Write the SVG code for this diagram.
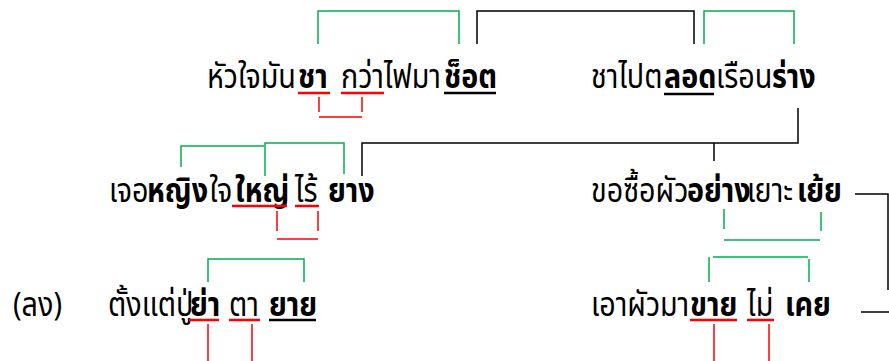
<svg xmlns="http://www.w3.org/2000/svg" width="889" height="361" viewBox="0 0 889 361">
<style>
text{font-family:"Noto Sans Thai","Leelawadee UI","Tahoma","DejaVu Sans","Noto Sans",sans-serif;font-size:33px;fill:#000}
.b{font-weight:bold}
.g{stroke:#00b050;stroke-width:1.5;fill:none}
.k{stroke:#000;stroke-width:1.5;fill:none}
.r{stroke:#ff0000;stroke-width:1.5;fill:none}
.ur{stroke:#ff0000;stroke-width:2.5}
.uk{stroke:#000;stroke-width:2.5}
</style>
<rect width="889" height="361" fill="#fff"/>
<g id="n1">
<text y="88" transform="scale(0.87,1)"><tspan x="237.93">หัวใจมัน</tspan><tspan class="b" x="342.53">ชา </tspan><tspan x="391.95">กว่าไฟมา</tspan><tspan class="b" x="510.34">ช็อต</tspan></text>
<line class="ur" x1="298" y1="93" x2="330" y2="93"/><line class="ur" x1="341" y1="93" x2="384" y2="93"/><line class="uk" x1="444" y1="93" x2="496" y2="93"/>
</g>
<g id="n2">
<text y="88" transform="scale(0.87,1)"><tspan x="679.31">ชาไปต</tspan><tspan class="b" x="763.22">ลอด</tspan><tspan x="822.99">เรือน</tspan><tspan class="b" x="887.36">ร่าง</tspan></text>
<line class="uk" x1="664" y1="94" x2="714" y2="94"/>
</g>
<g id="n3">
<text y="202" transform="scale(0.87,1)"><tspan x="125.29">เจอ</tspan><tspan class="b" x="168.97">หญิง</tspan><tspan x="240.8">ใจ</tspan><tspan class="b" x="270.11">ใหญ่ </tspan><tspan x="339.08">ไร้ </tspan><tspan class="b" x="377.01">ยาง</tspan></text>
<line class="ur" x1="232" y1="206" x2="287" y2="206"/><line class="ur" x1="295" y1="206" x2="319" y2="206"/>
</g>
<g id="n4">
<text y="202" transform="scale(0.87,1)"><tspan x="679.31">ขอซื้อผัว</tspan><tspan class="b" x="789.66">อย่าง</tspan><tspan x="858.62">เยาะ</tspan><tspan class="b" x="916.09">เย้ย</tspan></text>
</g>
<g id="n5">
<text y="316" transform="scale(0.87,1)" x="14.94">(ลง)</text>
</g>
<g id="n6">
<text y="316" transform="scale(0.87,1)"><tspan x="124.14">ตั้งแต่ปู่</tspan><tspan class="b" x="218.39">ย่า </tspan><tspan x="263.22">ตา </tspan><tspan class="b" x="309.2">ยาย</tspan></text>
<line class="ur" x1="189" y1="320" x2="219" y2="320"/><line class="ur" x1="229" y1="320" x2="260" y2="320"/><line class="uk" x1="269" y1="320" x2="316" y2="320"/>
</g>
<g id="n7">
<text y="316" transform="scale(0.87,1)"><tspan x="679.31">เอาผัวมา</tspan><tspan class="b" x="793.1">ขาย </tspan><tspan x="858.62">ไม่ </tspan><tspan class="b" x="902.3">เคย</tspan></text>
<line class="ur" x1="690" y1="320" x2="737" y2="320"/><line class="ur" x1="747" y1="320" x2="774" y2="320"/>
</g>
<g id="connectors">
<path class="g" d="M318,44V11H459V44"/>
<path class="k" d="M477,44V11H694V44"/>
<path class="g" d="M704,44V11H794V44"/>
<path class="r" d="M319,97V112M362,97V112M319,117H362"/>
<path class="k" d="M798,108V143H362V176M714,143V161"/>
<path class="g" d="M181,167V146H264M265,176V143H344V174"/>
<path class="r" d="M277,211V231M318,211V231M277,239H318"/>
<path class="g" d="M724,209V229M821,212V231M724,240H820"/>
<path class="k" d="M855,194H888V290M861,312H889"/>
<path class="g" d="M208,282V259H304V282"/>
<path class="g" d="M709,257V282M809,259V282M713,257H808"/>
<path class="r" d="M208,324V361M252,324V361M714,324V361M769,324V361"/>
</g>
</svg>
